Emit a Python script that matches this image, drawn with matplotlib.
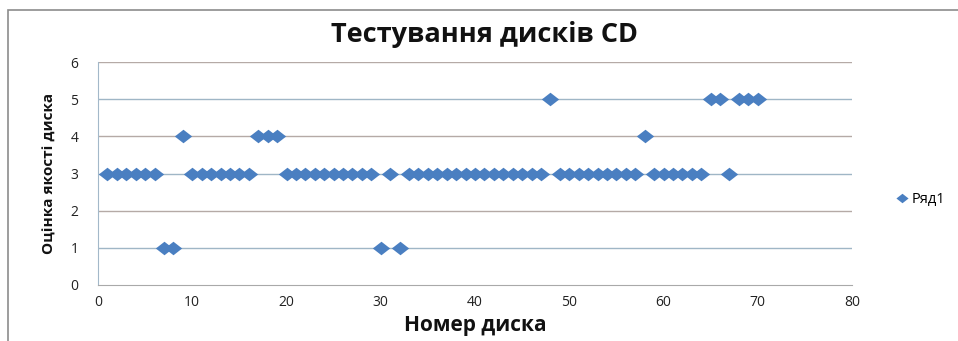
import matplotlib
matplotlib.use("Agg")
import matplotlib.pyplot as plt
from matplotlib.path import Path
from matplotlib.patches import Rectangle

# Disc numbers and their quality scores
disc_numbers = list(range(1, 71))
scores = [
    3, 3, 3, 3, 3, 3, 1, 1, 4, 3,
    3, 3, 3, 3, 3, 3, 4, 4, 4, 3,
    3, 3, 3, 3, 3, 3, 3, 3, 3, 1,
    3, 1, 3, 3, 3, 3, 3, 3, 3, 3,
    3, 3, 3, 3, 3, 3, 3, 5, 3, 3,
    3, 3, 3, 3, 3, 3, 3, 4, 3, 3,
    3, 3, 3, 3, 5, 5, 3, 5, 5, 5,
]
x_ticks = [0, 10, 20, 30, 40, 50, 60, 70, 80]
y_ticks = [0, 1, 2, 3, 4, 5, 6]

title = "Тестування дисків CD"
x_label = "Номер диска"
y_label = "Оцінка якості диска"
series_name = "Ряд1"

BLUE = "#4a7fc1"
FONT = ["Open Sans", "DejaVu Sans"]

# slightly flattened diamond, like the spreadsheet marker
diamond = Path([(-1, 0), (0, 0.78), (1, 0), (0, -0.78), (-1, 0)],
               [Path.MOVETO, Path.LINETO, Path.LINETO, Path.LINETO, Path.CLOSEPOLY])

fig = plt.figure(figsize=(9.58, 3.41), dpi=100)
fig.patch.set_facecolor("white")

# outer chart frame (open to the right and bottom)
fig.patches.append(Rectangle((8 / 958, -0.1), 1.2, 1 - 10 / 341 + 0.1,
                             transform=fig.transFigure, fill=False,
                             edgecolor="#8c8c8c", linewidth=1.2))

ax = fig.add_axes([98 / 958, 1 - 285 / 341, (852 - 98) / 958, (285 - 62) / 341])
ax.set_xlim(0, 80)
ax.set_ylim(0, 6)

for y in y_ticks[1:]:
    col = "#9fb6c6" if y % 2 else "#b5aaa6"
    ax.axhline(y, color=col, linewidth=1.0, zorder=1)

line, = ax.plot(disc_numbers, scores, linestyle="none", marker=diamond,
                markersize=12.5, color=BLUE, markeredgewidth=0, zorder=3,
                label=series_name, clip_on=False)

for side in ("top", "right"):
    ax.spines[side].set_visible(False)
ax.spines["left"].set_color("#a3b8c9")
ax.spines["bottom"].set_color("#a9a9a9")

ax.set_xticks(x_ticks)
ax.set_yticks(y_ticks)
ax.tick_params(length=0, labelsize=10, labelcolor="#222222", pad=7)
for lab in ax.get_xticklabels() + ax.get_yticklabels():
    lab.set_family(FONT)
ax.tick_params(axis="y", pad=14)

fig.text(485 / 958, 1 - 35 / 341, title, ha="center", va="center",
         fontsize=19.5, fontweight="bold", family=FONT, color="#111111")
fig.text(475 / 958, 1 - 325 / 341, x_label, ha="center", va="center",
         fontsize=15, fontweight="bold", family=FONT, color="#111111")
fig.text(50 / 958, 1 - 173 / 341, y_label, ha="center", va="center",
         rotation=90, fontsize=11, fontweight="bold", family=FONT,
         color="#111111")

leg = fig.legend(handles=[line], loc="center left",
                 bbox_to_anchor=(884 / 958, 1 - 200 / 341), frameon=False,
                 prop={"family": FONT, "size": 10.5}, handlelength=0.6,
                 handletextpad=0.4, markerscale=0.7)

fig.savefig("out.png", dpi=100, facecolor="white")
